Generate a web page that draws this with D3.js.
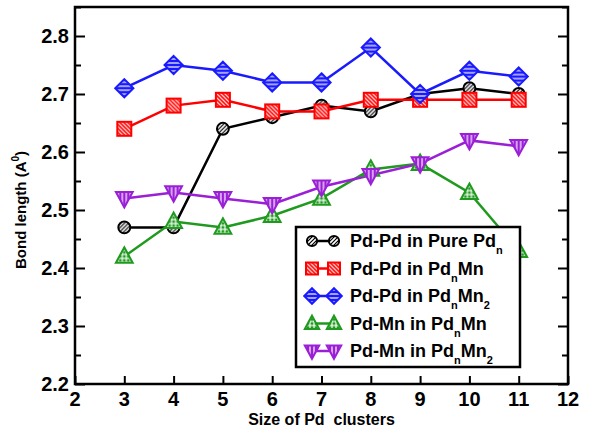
<!DOCTYPE html>
<html>
<head>
<meta charset="utf-8">
<script src="https://cdn.jsdelivr.net/npm/d3@7"></script>
<style>
  body { margin: 0; background: #fff; }
  text { font-family: "Liberation Sans", Arial, sans-serif; font-weight: bold; white-space: pre; }
</style>
</head>
<body>
<div id="chart"></div>
<script>
const W = 616, H = 429;
const pad = { left: 75, right: 48, top: 7, bottom: 45 };

// data
const sizes = [3, 4, 5, 6, 7, 8, 9, 10, 11];
const pdPure = [2.47, 2.47, 2.64, 2.66, 2.68, 2.67, 2.70, 2.71, 2.70];
const pdPdMn = [2.64, 2.68, 2.69, 2.67, 2.67, 2.69, 2.69, 2.69, 2.69];
const pdPdMn2 = [2.71, 2.75, 2.74, 2.72, 2.72, 2.78, 2.70, 2.74, 2.73];
const pdMnMn = [2.42, 2.48, 2.47, 2.49, 2.52, 2.57, 2.58, 2.53, 2.43];
const pdMnMn2 = [2.52, 2.53, 2.52, 2.51, 2.54, 2.56, 2.58, 2.62, 2.61];
const xTicks = [2, 3, 4, 5, 6, 7, 8, 9, 10, 11, 12];
const yTicks = [2.2, 2.3, 2.4, 2.5, 2.6, 2.7, 2.8];

const series = [
  { name: "pure", values: pdPure, color: "#000000", shape: "circle", label: ["Pd-Pd in Pure Pd", ["n"]] },
  { name: "pdmn", values: pdPdMn, color: "#ff0000", shape: "square", label: ["Pd-Pd in Pd", ["n"], "Mn"] },
  { name: "pdmn2", values: pdPdMn2, color: "#1a1aff", shape: "diamond", label: ["Pd-Pd in Pd", ["n"], "Mn", ["2"]] },
  { name: "mnmn", values: pdMnMn, color: "#1f9a1f", shape: "tri", label: ["Pd-Mn in Pd", ["n"], "Mn"] },
  { name: "mnmn2", values: pdMnMn2, color: "#9a1fd6", shape: "itri", label: ["Pd-Mn in Pd", ["n"], "Mn", ["2"]] },
];

const svg = d3.select("#chart").append("svg").attr("width", W).attr("height", H);
const defs = svg.append("defs");

// hatch patterns for the marker fills
function hatch(id, color, bg, lines) {
  const p = defs.append("pattern").attr("id", id).attr("patternUnits", "userSpaceOnUse")
    .attr("width", 4).attr("height", 4);
  p.append("rect").attr("width", 4).attr("height", 4).attr("fill", bg);
  lines.forEach(l => p.append("path").attr("d", l).attr("stroke", color).attr("stroke-width", 1.2));
}
hatch("h-pure", "#000", "#fff", ["M-1,5 L5,-1", "M-1,1 L1,-1", "M3,5 L5,3"]);
hatch("h-pdmn", "#fff", "#ff0000", ["M-1,-1 L5,5", "M3,-1 L5,1", "M-1,3 L1,5"]);
hatch("h-pdmn2", "#fff", "#1a1aff", ["M0,2 L4,2"]);
hatch("h-mnmn", "#fff", "#1f9a1f", ["M0,2 L4,2", "M2,0 L2,4"]);
hatch("h-mnmn2", "#fff", "#9a1fd6", ["M2,0 L2,4"]);

const x = d3.scaleLinear().domain([2, 12]).range([pad.left, W - pad.right]);
const y = d3.scaleLinear().domain([2.2, 2.85]).range([H - pad.bottom, pad.top]);

// frame
svg.append("rect").attr("x", x(2)).attr("y", y(2.85))
  .attr("width", x(12) - x(2)).attr("height", y(2.2) - y(2.85))
  .attr("fill", "none").attr("stroke", "#000").attr("stroke-width", 2.5);

// axes with inward ticks
const yMinor = d3.range(2.25, 2.85, 0.1);
svg.append("g").attr("transform", "translate(" + x(2) + ",0)")
  .call(d3.axisRight(y).tickValues(yTicks).tickSize(10).tickFormat(""));
svg.append("g").attr("transform", "translate(" + x(2) + ",0)")
  .call(d3.axisRight(y).tickValues(yMinor).tickSize(6).tickFormat(""));
svg.append("g").attr("transform", "translate(" + x(12) + ",0)")
  .call(d3.axisLeft(y).tickValues(yTicks).tickSize(10).tickFormat(""));
svg.append("g").attr("transform", "translate(" + x(12) + ",0)")
  .call(d3.axisLeft(y).tickValues(yMinor).tickSize(6).tickFormat(""));
svg.append("g").attr("transform", "translate(0," + y(2.2) + ")")
  .call(d3.axisTop(x).tickValues(xTicks).tickSize(8).tickFormat(""));
svg.selectAll(".domain").remove();
svg.selectAll(".tick line").attr("stroke", "#000").attr("stroke-width", 2);

// tick labels
svg.append("g").selectAll("text").data(yTicks).join("text")
  .attr("x", x(2) - 6).attr("y", d => y(d) + 7)
  .attr("text-anchor", "end").attr("font-size", 20)
  .text(d => d3.format(".1f")(d));
svg.append("g").selectAll("text").data(xTicks).join("text")
  .attr("x", d => x(d)).attr("y", y(2.2) + 22)
  .attr("text-anchor", "middle").attr("font-size", 20)
  .text(d => d);

// axis titles
svg.append("text").attr("x", (x(2) + x(12)) / 2).attr("y", H - 4)
  .attr("text-anchor", "middle").attr("font-size", 16).text("Size of Pd  clusters");
const yt = svg.append("text").attr("transform", "translate(26," + (y(2.5)) + ") rotate(-90)")
  .attr("text-anchor", "middle").attr("font-size", 15);
yt.append("tspan").text("Bond length (A");
yt.append("tspan").attr("font-size", 10).attr("dy", -7).text("0");
yt.append("tspan").attr("dy", 7).text(")");

// markers
function marker(g, shape, color, fillId, s) {
  let el;
  if (shape === "circle") el = g.append("circle").attr("r", s * 0.85);
  else if (shape === "square") el = g.append("rect").attr("x", -s).attr("y", -s).attr("width", 2 * s).attr("height", 2 * s);
  else if (shape === "diamond") el = g.append("path").attr("d", `M0,${-s * 1.3}L${s * 1.3},0L0,${s * 1.3}L${-s * 1.3},0Z`);
  else if (shape === "tri") el = g.append("path").attr("d", `M0,${-s * 1.3}L${s * 1.2},${s * 0.9}L${-s * 1.2},${s * 0.9}Z`);
  else el = g.append("path").attr("d", `M0,${s * 1.3}L${s * 1.2},${-s * 0.9}L${-s * 1.2},${-s * 0.9}Z`);
  el.attr("fill", "url(#" + fillId + ")").attr("stroke", color).attr("stroke-width", 2);
}

const line = d3.line().x(d => x(d[0])).y(d => y(d[1]));
series.forEach(s => {
  const pts = sizes.map((v, i) => [v, s.values[i]]);
  svg.append("path").datum(pts).attr("d", line)
    .attr("fill", "none").attr("stroke", s.color).attr("stroke-width", 2.5);
});
series.forEach(s => {
  sizes.forEach((v, i) => {
    const g = svg.append("g").attr("transform", "translate(" + x(v) + "," + y(s.values[i]) + ")");
    marker(g, s.shape, s.color, "h-" + s.name, 7);
  });
});

// legend
const lg = svg.append("g").attr("transform", "translate(296,227)");
lg.append("rect").attr("width", 224).attr("height", 140)
  .attr("fill", "#fff").attr("stroke", "#000").attr("stroke-width", 2.5);
series.forEach((s, i) => {
  const row = lg.append("g").attr("transform", "translate(0," + (14 + i * 27.5) + ")");
  row.append("line").attr("x1", 16).attr("x2", 38).attr("stroke", s.color).attr("stroke-width", 2.5);
  marker(row.append("g").attr("transform", "translate(16,0)"), s.shape, s.color, "h-" + s.name, 6);
  marker(row.append("g").attr("transform", "translate(38,0)"), s.shape, s.color, "h-" + s.name, 6);
  const t = row.append("text").attr("x", 54).attr("y", 6).attr("font-size", 18);
  let shift = 0;
  s.label.forEach(part => {
    if (typeof part === "string") {
      t.append("tspan").attr("dy", -shift).text(part);
      shift = 0;
    } else {
      t.append("tspan").attr("font-size", 11).attr("dy", 7 - shift).text(part[0]);
      shift = 7;
    }
  });
});
</script>
</body>
</html>
